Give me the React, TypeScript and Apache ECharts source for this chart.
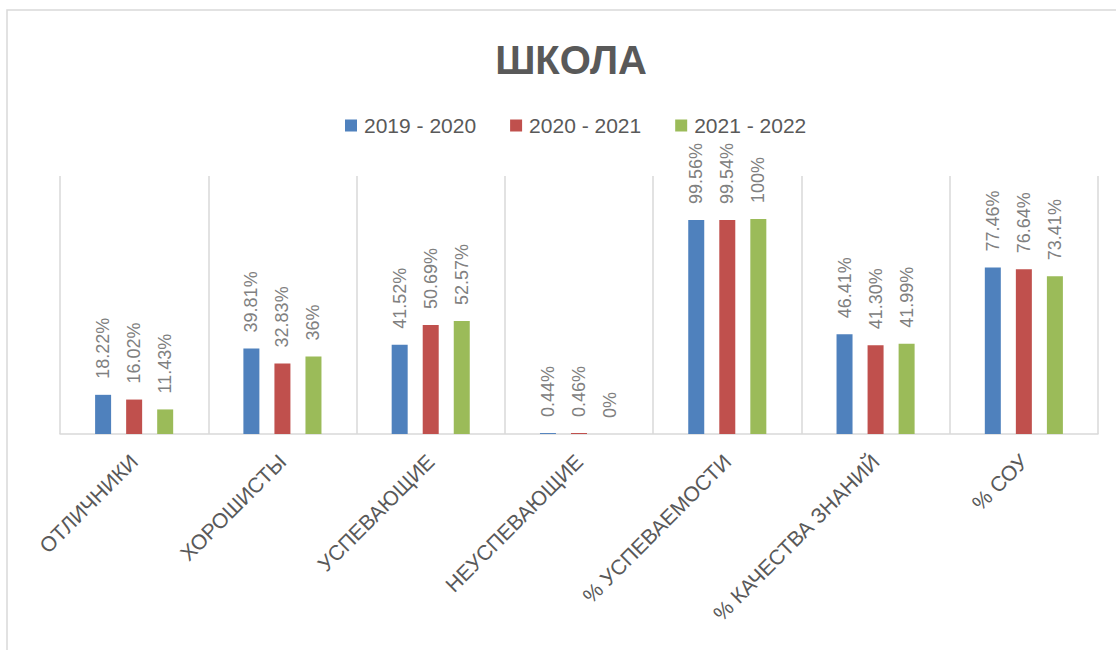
import React, { useEffect, useRef } from "react";
import * as echarts from "echarts";

const categories = [
  "ОТЛИЧНИКИ",
  "ХОРОШИСТЫ",
  "УСПЕВАЮЩИЕ",
  "НЕУСПЕВАЮЩИЕ",
  "% УСПЕВАЕМОСТИ",
  "% КАЧЕСТВА ЗНАНИЙ",
  "% СОУ",
];

const seriesNames = ["2019 - 2020", "2020 - 2021", "2021 - 2022"];

const values2019 = [18.22, 39.81, 41.52, 0.44, 99.56, 46.41, 77.46];
const values2020 = [16.02, 32.83, 50.69, 0.46, 99.54, 41.3, 76.64];
const values2021 = [11.43, 36, 52.57, 0, 100, 41.99, 73.41];

const labels2019 = ["18.22%", "39.81%", "41.52%", "0.44%", "99.56%", "46.41%", "77.46%"];
const labels2020 = ["16.02%", "32.83%", "50.69%", "0.46%", "99.54%", "41.30%", "76.64%"];
const labels2021 = ["11.43%", "36%", "52.57%", "0%", "100%", "41.99%", "73.41%"];

const colors = ["#4f81bd", "#c0504d", "#9bbb59"];

const FONT = "'Liberation Sans', Arial, sans-serif";

export default function App() {
  const ref = useRef<HTMLDivElement>(null);

  useEffect(() => {
    if (!ref.current) return;
    const chart = echarts.init(ref.current, undefined, { renderer: "svg" });
    const valueSets = [values2019, values2020, values2021];
    const labelSets = [labels2019, labels2020, labels2021];

    chart.setOption({
      animation: false,
      color: colors,
      textStyle: { fontFamily: FONT },
      title: {
        text: "ШКОЛА",
        left: 566,
        textAlign: "center",
        top: 35,
        textStyle: {
          fontSize: 40,
          fontWeight: "bold",
          color: "#595959",
          fontFamily: FONT,
        },
      },
      legend: {
        data: seriesNames,
        top: 110,
        left: 340,
        icon: "rect",
        itemWidth: 12,
        itemHeight: 12,
        itemGap: 34,
        textStyle: { fontSize: 21, color: "#595959", fontFamily: FONT, padding: [0, 0, 0, 2] },
      },
      graphic: [
        {
          type: "rect",
          shape: { x: 7, y: 10, width: 1140, height: 680 },
          style: { fill: "none", stroke: "#d9d9d9", lineWidth: 1.5 },
          silent: true,
        },
      ],
      grid: { left: 60, right: 18, top: 176, bottom: 216 },
      xAxis: {
        type: "category",
        data: categories,
        boundaryGap: true,
        axisTick: { show: false },
        axisLine: { lineStyle: { color: "#d9d9d9", width: 1.5 } },
        splitLine: { show: true, lineStyle: { color: "#d9d9d9", width: 1.5 } },
        axisLabel: {
          rotate: 45,
          interval: 0,
          margin: 24,
          fontSize: 21,
          color: "#595959",
          fontFamily: FONT,
        },
      },
      yAxis: {
        type: "value",
        min: 0,
        max: 120,
        show: false,
        splitLine: { show: false },
      },
      series: seriesNames.map((name, i) => ({
        name,
        type: "bar",
        data: valueSets[i],
        barWidth: 16,
        barGap: "94%",
        itemStyle: { color: colors[i] },
        label: {
          show: true,
          position: "top",
          rotate: 90,
          align: "left",
          verticalAlign: "middle",
          distance: 16,
          fontSize: 18,
          color: "#808080",
          fontFamily: FONT,
          formatter: (p: any) => labelSets[i][p.dataIndex],
        },
      })),
    });

    return () => chart.dispose();
  }, []);

  return (
    <div
      ref={ref}
      style={{ position: "fixed", left: 0, top: 0, width: 1116, height: 650, background: "#fff" }}
    />
  );
}
